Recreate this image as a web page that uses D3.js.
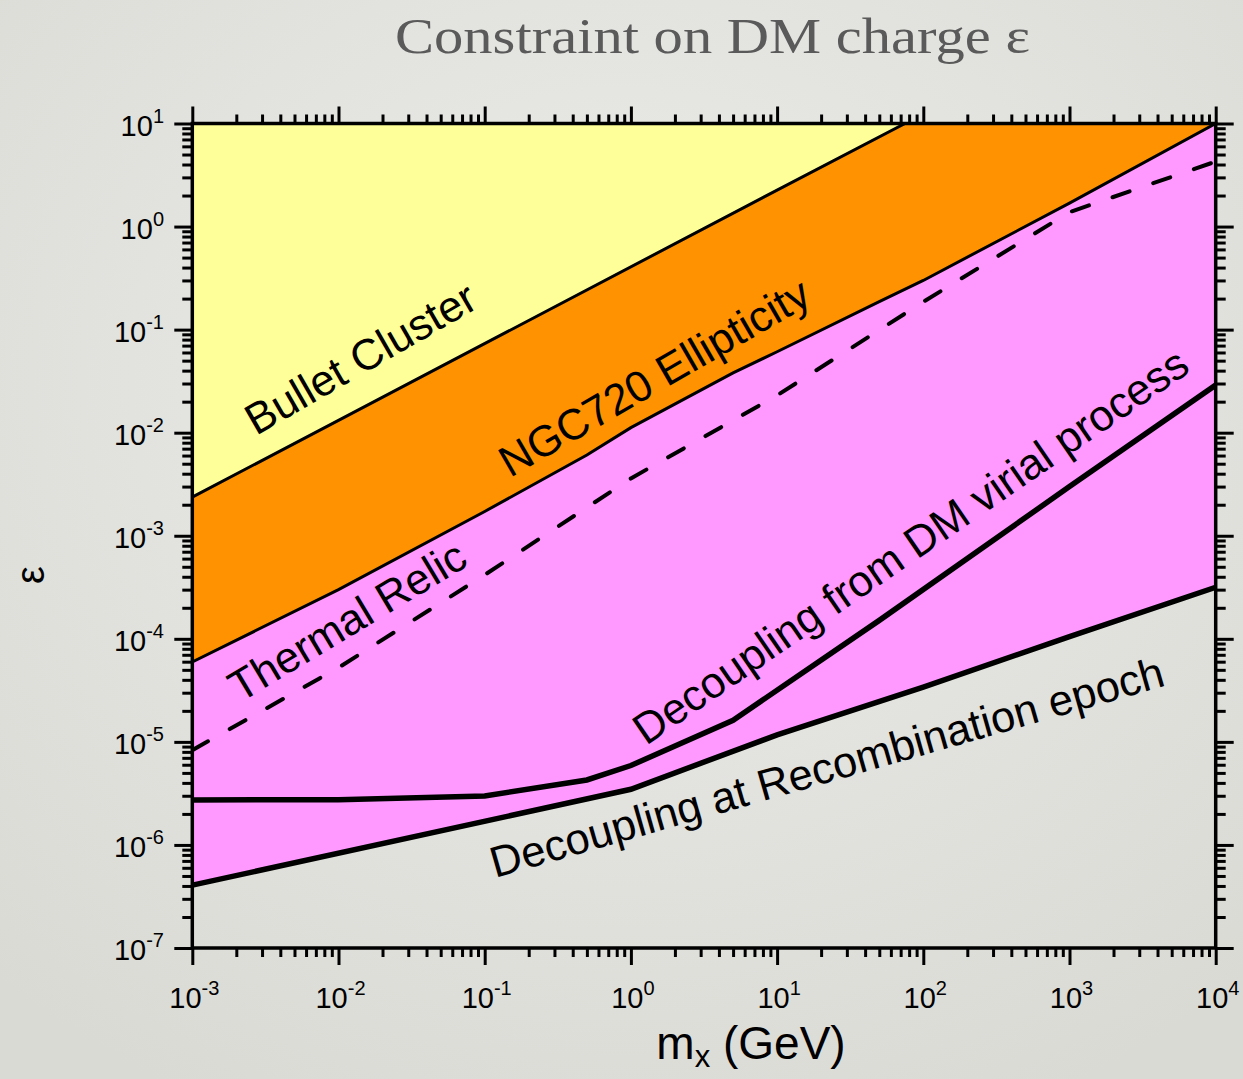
<!DOCTYPE html>
<html>
<head>
<meta charset="utf-8">
<script src="https://cdn.jsdelivr.net/npm/d3@7"></script>
<style>
  body { margin: 0; }
  svg { display: block; }
</style>
</head>
<body>
<svg id="chart"></svg>
<script>
// tick values and labels
const massTicks = [1e-3, 1e-2, 1e-1, 1, 1e1, 1e2, 1e3, 1e4];
const massTickExp = ["-3", "-2", "-1", "0", "1", "2", "3", "4"];
const epsTicks = [1e-7, 1e-6, 1e-5, 1e-4, 1e-3, 1e-2, 1e-1, 1, 1e1];
const epsTickExp = ["-7", "-6", "-5", "-4", "-3", "-2", "-1", "0", "1"];

// curves, [mass GeV, epsilon]
const bulletCluster = [[1e-3, 2.37e-3], [10, 2.26], [75, 10]];
const ngc720 = [[1e-3, 5.96e-5], [1e-2, 3.0e-4], [0.1, 1.72e-3], [0.5, 6.07e-3], [1, 1.12e-2],
  [5, 3.81e-2], [10, 6.1e-2], [50, 0.187], [100, 0.30], [1e3, 1.69], [1e4, 10]];
const thermalRelic = [[1e-3, 8.3e-6], [1e-2, 5.25e-5], [0.1, 4.17e-4], [1, 3.6e-3], [10, 2.3e-2],
  [100, 0.186], [1e3, 1.38], [1e4, 4.27]];
const virial = [[1e-3, 2.73e-6], [1e-2, 2.75e-6], [0.1, 2.99e-6], [0.5, 4.27e-6], [1, 5.9e-6],
  [5, 1.62e-5], [50, 1.51e-4], [1e3, 3.0e-3], [1e4, 2.9e-2]];
const recombination = [[1e-3, 4.07e-7], [1, 3.47e-6], [10, 1.17e-5], [100, 3.4e-5],
  [1e3, 1.05e-4], [1e4, 3.16e-4]];

const W = 1243, H = 1079;
const svg = d3.select("#chart").attr("width", W).attr("height", H);

const defs = svg.append("defs");
const grad = defs.append("radialGradient").attr("id", "bg")
  .attr("cx", "50%").attr("cy", "35%").attr("r", "75%");
grad.append("stop").attr("offset", "0%").attr("stop-color", "#ebebe8");
grad.append("stop").attr("offset", "100%").attr("stop-color", "#dadad5");
svg.append("rect").attr("width", W).attr("height", H).attr("fill", "url(#bg)");

const x = d3.scaleLog().domain([1e-3, 1e4]).range([192.3, 1215.7]);
const y = d3.scaleLog().domain([1e-7, 1e1]).range([948, 123.5]);

const pLeft = x(1e-3), pRight = x(1e4), pTop = y(1e1), pBottom = y(1e-7);

defs.append("clipPath").attr("id", "plot")
  .append("rect")
  .attr("x", pLeft).attr("y", pTop)
  .attr("width", pRight - pLeft).attr("height", pBottom - pTop);

const g = svg.append("g").attr("clip-path", "url(#plot)");

const line = d3.line().x(d => x(d[0])).y(d => y(d[1]));
const areaTop = d3.area().x(d => x(d[0])).y0(d => y(d[1])).y1(pTop);

g.append("path").datum(ngc720).attr("d", areaTop).attr("fill", "#ff9200");
g.append("path").datum(bulletCluster).attr("d", areaTop).attr("fill", "#ffff99");
g.append("path")
  .datum(ngc720.concat(recombination.slice().reverse()))
  .attr("d", d => line(d) + "Z")
  .attr("fill", "#ff99ff");

g.append("path").datum(bulletCluster).attr("d", line)
  .attr("fill", "none").attr("stroke", "#000").attr("stroke-width", 3);
g.append("path").datum(ngc720).attr("d", line)
  .attr("fill", "none").attr("stroke", "#000").attr("stroke-width", 3);
g.append("path").datum(thermalRelic).attr("d", line)
  .attr("fill", "none").attr("stroke", "#000").attr("stroke-width", 4)
  .attr("stroke-dasharray", "18 25").attr("stroke-linecap", "round");
g.append("path").datum(virial).attr("d", line)
  .attr("fill", "none").attr("stroke", "#000").attr("stroke-width", 5.5);
g.append("path").datum(recombination).attr("d", line)
  .attr("fill", "none").attr("stroke", "#000").attr("stroke-width", 5.5);

// axes: major + minor ticks on all four sides
const xMinor = d3.range(-3, 4).flatMap(k => d3.range(2, 10).map(m => m * Math.pow(10, k)));
const yMinor = d3.range(-7, 1).flatMap(k => d3.range(2, 10).map(m => m * Math.pow(10, k)));

function drawAxis(axisFn, scale, values, size, transform) {
  const ax = svg.append("g").attr("transform", transform)
    .call(axisFn(scale).tickValues(values).tickSize(size).tickSizeOuter(0).tickFormat(""));
  ax.select(".domain").remove();
  ax.selectAll(".tick line").attr("stroke", "#000").attr("stroke-width", 3);
}
drawAxis(d3.axisBottom, x, massTicks, 17, `translate(0,${pBottom})`);
drawAxis(d3.axisBottom, x, xMinor, 9, `translate(0,${pBottom})`);
drawAxis(d3.axisTop, x, massTicks, 17, `translate(0,${pTop})`);
drawAxis(d3.axisTop, x, xMinor, 9, `translate(0,${pTop})`);
drawAxis(d3.axisLeft, y, epsTicks, 18, `translate(${pLeft},0)`);
drawAxis(d3.axisLeft, y, yMinor, 10, `translate(${pLeft},0)`);
drawAxis(d3.axisRight, y, epsTicks, 18, `translate(${pRight},0)`);
drawAxis(d3.axisRight, y, yMinor, 10, `translate(${pRight},0)`);

svg.append("rect")
  .attr("x", pLeft).attr("y", pTop)
  .attr("width", pRight - pLeft).attr("height", pBottom - pTop)
  .attr("fill", "none").attr("stroke", "#000").attr("stroke-width", 3.5);

// tick labels
const font = "'Liberation Sans', Arial, sans-serif";
const xl = svg.append("g").attr("font-family", font).attr("font-size", 29).attr("fill", "#000");
massTicks.forEach((d, i) => {
  const t = xl.append("text").attr("x", x(d) + 2).attr("y", pBottom + 60).attr("text-anchor", "middle");
  t.append("tspan").text("10");
  t.append("tspan").attr("dy", -13).attr("font-size", 20).text(massTickExp[i]);
});
const yl = svg.append("g").attr("font-family", font).attr("font-size", 29).attr("fill", "#000");
epsTicks.forEach((d, i) => {
  const t = yl.append("text").attr("x", 164).attr("y", y(d) + 12).attr("text-anchor", "end");
  t.append("tspan").text("10");
  t.append("tspan").attr("dy", -13).attr("font-size", 20).text(epsTickExp[i]);
});

// axis titles
const xt = svg.append("text").attr("x", 751).attr("y", 1059).attr("text-anchor", "middle")
  .attr("font-family", font).attr("font-size", 46).attr("fill", "#000");
xt.append("tspan").text("m");
xt.append("tspan").attr("dy", 8).attr("font-size", 31).text("x");
xt.append("tspan").attr("dy", -8).text(" (GeV)");

svg.append("text").attr("transform", "translate(44,575) rotate(-90)")
  .attr("text-anchor", "middle").attr("font-family", font).attr("font-size", 40)
  .attr("fill", "#000").text("ε");

// title
svg.append("text").attr("x", 395).attr("y", 53)
  .attr("font-family", "'Liberation Serif', 'DejaVu Serif', serif").attr("font-size", 50)
  .attr("fill", "#5a5a5a").attr("textLength", 635).attr("lengthAdjust", "spacingAndGlyphs")
  .text("Constraint on DM charge ε");

// region labels
const labels = [
  { text: "Bullet Cluster", x: 256, y: 436, angle: -30 },
  { text: "NGC720 Ellipticity", x: 510, y: 478, angle: -30 },
  { text: "Thermal Relic", x: 240, y: 703, angle: -31 },
  { text: "Decoupling from DM virial process", x: 646, y: 746, angle: -34.5 },
  { text: "Decoupling at Recombination epoch", x: 495, y: 878, angle: -16 }
];
svg.append("g").selectAll("text").data(labels).join("text")
  .attr("transform", d => `translate(${d.x},${d.y}) rotate(${d.angle})`)
  .attr("font-family", font).attr("font-size", 43.5).attr("fill", "#000")
  .text(d => d.text);
</script>
</body>
</html>
